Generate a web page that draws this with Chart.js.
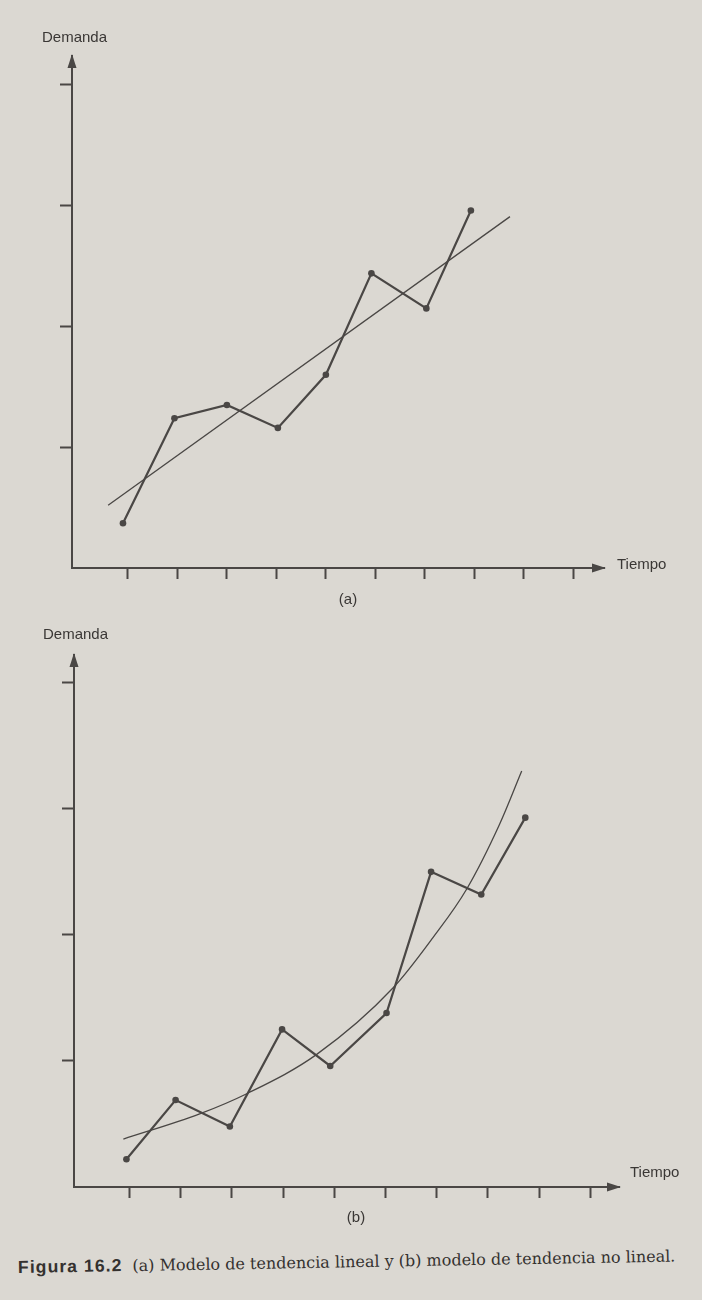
<!DOCTYPE html>
<html>
<head>
<meta charset="utf-8">
<script src="https://cdn.jsdelivr.net/npm/chart.js@4.4.1/dist/chart.umd.min.js"></script>
<style>
  html, body { margin: 0; padding: 0; }
  body { width: 702px; height: 1300px; background: #dbd8d2; position: relative; overflow: hidden; }
  canvas { position: absolute; left: 0; }
  #chartA { top: 0; }
  #chartB { top: 620px; }
  .caption { position: absolute; left: 18px; top: 1257px; white-space: nowrap; color: #34312f;
             transform: rotate(-1deg); transform-origin: left center; }
  .caption b { font: bold 17.5px "Liberation Sans", Arial, sans-serif; letter-spacing: 1.1px; margin-right: 10px; }
  .caption span { font: 16px "DejaVu Serif", "Liberation Serif", serif; }
</style>
</head>
<body>
<canvas id="chartA" width="702" height="620"></canvas>
<canvas id="chartB" width="702" height="620"></canvas>
<div class="caption"><b>Figura 16.2</b><span>(a) Modelo de tendencia lineal y (b) modelo de tendencia no lineal.</span></div>

<script>
// tick positions (no labels in the figure)
const timeTicks = [1, 2, 3, 4, 5, 6, 7, 8, 9, 10];
const demandTicks = [1, 2, 3, 4];

// (a) linear trend model
const linearTime = [0.9, 1.94, 3.0, 4.03, 5.0, 5.92, 7.03, 7.93];
const linearDemand = [0.37, 1.24, 1.35, 1.16, 1.60, 2.44, 2.15, 2.96];
const linearFitTime = [0.6, 8.72];
const linearFitDemand = [0.52, 2.91];

// (b) non-linear trend model
const curvedTime = [0.94, 1.90, 2.96, 3.98, 4.92, 6.02, 6.89, 7.87, 8.73];
const curvedDemand = [0.22, 0.69, 0.48, 1.25, 0.96, 1.38, 2.50, 2.32, 2.93];
const curveFitTime = [0.88, 2.37, 3.29, 4.65, 6.15, 6.93, 7.58, 8.23, 8.66];
const curveFitDemand = [0.38, 0.58, 0.74, 1.05, 1.58, 1.98, 2.36, 2.88, 3.30];

const ink = '#4a4745';
const textInk = '#3a3735';

const toPoints = (xs, ys) => xs.map((x, i) => ({ x: x, y: ys[i] }));

// arrows on the axes plus the axis names and the (a)/(b) tag
const axisDecor = {
  id: 'axisDecor',
  afterDraw(chart, args, opts) {
    const { ctx, chartArea: a } = chart;
    ctx.save();
    ctx.fillStyle = ink;
    ctx.beginPath();
    ctx.moveTo(a.left, a.top - 2);
    ctx.lineTo(a.left - 4.5, a.top + 12);
    ctx.lineTo(a.left + 4.5, a.top + 12);
    ctx.closePath();
    ctx.fill();
    ctx.beginPath();
    ctx.moveTo(a.right + 2, a.bottom);
    ctx.lineTo(a.right - 12, a.bottom - 4.5);
    ctx.lineTo(a.right - 12, a.bottom + 4.5);
    ctx.closePath();
    ctx.fill();

    ctx.fillStyle = textInk;
    ctx.font = '15px "Liberation Sans", Arial, sans-serif';
    ctx.textBaseline = 'middle';
    ctx.textAlign = 'left';
    ctx.fillText('Demanda', a.left + opts.yNameDx, a.top + opts.yNameDy);
    ctx.fillText('Tiempo', a.right + opts.xNameDx, a.bottom + opts.xNameDy);
    ctx.textAlign = 'center';
    ctx.fillText(opts.tag, opts.tagX, a.bottom + opts.tagDy);
    ctx.restore();
  }
};

function makeChart(id, cfg) {
  new Chart(document.getElementById(id), {
    type: 'scatter',
    data: {
      datasets: [
        {
          data: toPoints(cfg.obsTime, cfg.obsDemand),
          showLine: true,
          borderColor: ink,
          borderWidth: 2.2,
          pointRadius: 3.3,
          pointBackgroundColor: ink,
          pointBorderWidth: 0,
          tension: 0
        },
        {
          data: toPoints(cfg.fitTime, cfg.fitDemand),
          showLine: true,
          borderColor: ink,
          borderWidth: 1.3,
          pointRadius: 0,
          cubicInterpolationMode: cfg.smooth ? 'monotone' : 'default'
        }
      ]
    },
    options: {
      responsive: false,
      animation: false,
      events: [],
      layout: { padding: cfg.padding },
      plugins: {
        legend: { display: false },
        tooltip: { enabled: false },
        axisDecor: cfg.decor
      },
      scales: {
        x: {
          type: 'linear',
          min: cfg.xMin,
          max: cfg.xMax,
          afterBuildTicks: s => { s.ticks = timeTicks.map(v => ({ value: v })); },
          afterFit: s => { s.height = 10; },
          ticks: { display: false },
          grid: { drawOnChartArea: false, drawTicks: true, tickLength: 11, tickColor: ink, tickWidth: 2 },
          border: { display: true, color: ink, width: 2 }
        },
        y: {
          type: 'linear',
          min: 0,
          max: cfg.yMax,
          afterBuildTicks: s => { s.ticks = demandTicks.map(v => ({ value: v })); },
          afterFit: s => { s.width = 12; },
          ticks: { display: false },
          grid: { drawOnChartArea: false, drawTicks: true, tickLength: 12, tickColor: ink, tickWidth: 2 },
          border: { display: true, color: ink, width: 2 }
        }
      }
    },
    plugins: [axisDecor]
  });
}

makeChart('chartA', {
  obsTime: linearTime, obsDemand: linearDemand,
  fitTime: linearFitTime, fitDemand: linearFitDemand,
  smooth: false,
  xMin: -0.13, xMax: 10.62, yMax: 4.24,
  padding: { left: 60, top: 56, right: 98, bottom: 42 },
  decor: { yNameDx: -30, yNameDy: -18, xNameDx: 13, xNameDy: -3, tag: '(a)', tagX: 348, tagDy: 32 }
});

makeChart('chartB', {
  obsTime: curvedTime, obsDemand: curvedDemand,
  fitTime: curveFitTime, fitDemand: curveFitDemand,
  smooth: true,
  xMin: -0.084, xMax: 10.56, yMax: 4.22,
  padding: { left: 62, top: 35, right: 83, bottom: 43 },
  decor: { yNameDx: -31, yNameDy: -20, xNameDx: 11, xNameDy: -14, tag: '(b)', tagX: 356, tagDy: 31 }
});
</script>
</body>
</html>
